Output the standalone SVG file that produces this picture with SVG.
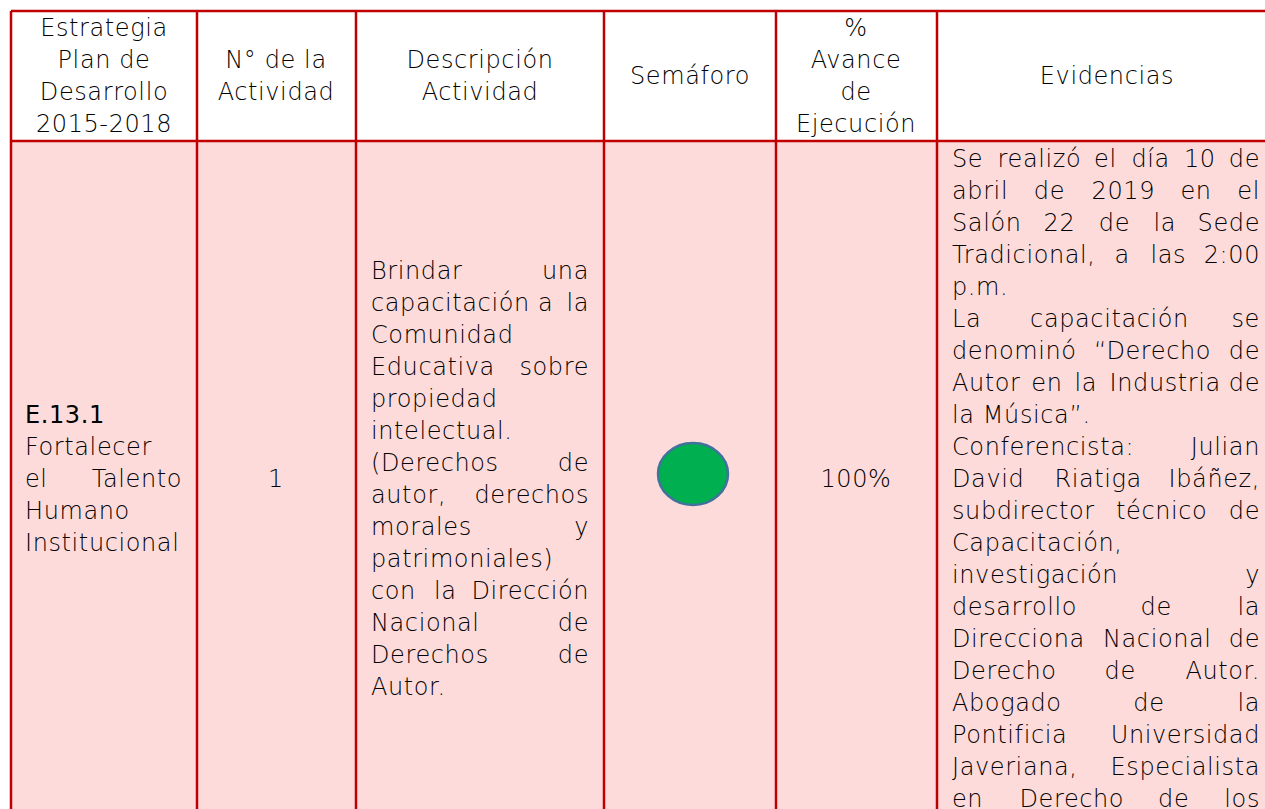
<svg xmlns="http://www.w3.org/2000/svg" width="1265" height="809" viewBox="0 0 1265 809">
<style>
.t{font-family:"DejaVu Sans","Open Sans",sans-serif;font-size:24px;font-weight:200;fill:#000000;letter-spacing:0.6px}
.c{text-anchor:middle}
.e{text-anchor:end}
.b{font-weight:400}
.ln{stroke:#C00000;stroke-width:2.5;fill:none}
</style>
<rect x="0" y="0" width="1265" height="809" fill="#ffffff"/>
<rect x="11" y="141" width="1254" height="668" fill="#FEDBDB"/>
<g id="grid">
<line class="ln" x1="11" y1="11" x2="1265" y2="11"/>
<line class="ln" x1="11" y1="141" x2="1265" y2="141"/>
<line class="ln" x1="11" y1="11" x2="11" y2="809"/>
<line class="ln" x1="197" y1="11" x2="197" y2="809"/>
<line class="ln" x1="356" y1="11" x2="356" y2="809"/>
<line class="ln" x1="604" y1="11" x2="604" y2="809"/>
<line class="ln" x1="776" y1="11" x2="776" y2="809"/>
<line class="ln" x1="937" y1="11" x2="937" y2="809"/>
</g>
<g id="header">
<text class="t c" x="104" y="36">Estrategia</text>
<text class="t c" x="104" y="68">Plan de</text>
<text class="t c" x="104" y="100">Desarrollo</text>
<text class="t c" x="104" y="132">2015-2018</text>
<text class="t c" x="276" y="68">N° de la</text>
<text class="t c" x="276" y="100">Actividad</text>
<text class="t c" x="480" y="68">Descripción</text>
<text class="t c" x="480" y="100">Actividad</text>
<text class="t c" x="690" y="84">Semáforo</text>
<text class="t c" x="856" y="36">%</text>
<text class="t c" x="856" y="68">Avance</text>
<text class="t c" x="856" y="100">de</text>
<text class="t c" x="856" y="132">Ejecución</text>
<text class="t c" x="1107" y="84">Evidencias</text>
</g>
<g id="estrategia">
<text class="t b" x="25" y="423">E.13.1</text>
<text class="t" x="25" y="455">Fortalecer</text>
<text class="t" x="25" y="487">el</text><text class="t e" x="182" y="487">Talento</text>
<text class="t" x="25" y="519">Humano</text>
<text class="t" x="25" y="551">Institucional</text>
</g>
<g id="numero">
<text class="t c" x="276" y="487">1</text>
</g>
<g id="descripcion">
<text class="t" x="371" y="279">Brindar</text><text class="t e" x="589" y="279">una</text>
<text class="t" x="371" y="311">capacitación</text><text class="t" x="538" y="311">a</text><text class="t e" x="589" y="311">la</text>
<text class="t" x="371" y="343">Comunidad</text>
<text class="t" x="371" y="375">Educativa</text><text class="t e" x="589" y="375">sobre</text>
<text class="t" x="371" y="407">propiedad</text>
<text class="t" x="371" y="439">intelectual.</text>
<text class="t" x="371" y="471">(Derechos</text><text class="t e" x="589" y="471">de</text>
<text class="t" x="371" y="503">autor,</text><text class="t e" x="589" y="503">derechos</text>
<text class="t" x="371" y="535">morales</text><text class="t e" x="589" y="535">y</text>
<text class="t" x="371" y="567">patrimoniales)</text>
<text class="t" x="371" y="599">con</text><text class="t" x="434" y="599">la</text><text class="t e" x="589" y="599">Dirección</text>
<text class="t" x="371" y="631">Nacional</text><text class="t e" x="589" y="631">de</text>
<text class="t" x="371" y="663">Derechos</text><text class="t e" x="589" y="663">de</text>
<text class="t" x="371" y="695">Autor.</text>
</g>
<g id="semaforo">
<ellipse cx="693" cy="474" rx="35" ry="31" fill="#00B050" stroke="#41719C" stroke-width="2.5"/>
</g>
<g id="avance">
<text class="t c" x="856" y="487">100%</text>
</g>
<g id="evidencias">
<text class="t" x="952" y="167">Se</text><text class="t" x="997.6" y="167">realizó</text><text class="t" x="1094.1" y="167">el</text><text class="t" x="1131.5" y="167">día</text><text class="t" x="1184" y="167">10</text><text class="t e" x="1260" y="167">de</text>
<text class="t" x="952" y="199">abril</text><text class="t" x="1033.8" y="199">de</text><text class="t" x="1091.6" y="199">2019</text><text class="t" x="1180.4" y="199">en</text><text class="t e" x="1260" y="199">el</text>
<text class="t" x="952" y="231">Salón</text><text class="t" x="1043.6" y="231">22</text><text class="t" x="1098.8" y="231">de</text><text class="t" x="1153.5" y="231">la</text><text class="t e" x="1260" y="231">Sede</text>
<text class="t" x="952" y="263">Tradicional,</text><text class="t" x="1114.6" y="263">a</text><text class="t" x="1150.4" y="263">las</text><text class="t e" x="1260" y="263">2:00</text>
<text class="t" x="952" y="295">p.m.</text>
<text class="t" x="952" y="327">La</text><text class="t" x="1030.1" y="327">capacitación</text><text class="t e" x="1260" y="327">se</text>
<text class="t" x="952" y="359">denominó</text><text class="t" x="1094.1" y="359">“Derecho</text><text class="t e" x="1260" y="359">de</text>
<text class="t" x="952" y="391">Autor</text><text class="t" x="1031.3" y="391">en</text><text class="t" x="1074.6" y="391">la</text><text class="t" x="1109.6" y="391">Industria</text><text class="t e" x="1260" y="391">de</text>
<text class="t" x="952" y="423">la Música”.</text>
<text class="t" x="952" y="455">Conferencista:</text><text class="t e" x="1260" y="455">Julian</text>
<text class="t" x="952" y="487">David</text><text class="t" x="1054.4" y="487">Riatiga</text><text class="t e" x="1260" y="487">Ibáñez,</text>
<text class="t" x="952" y="519">subdirector</text><text class="t" x="1116" y="519">técnico</text><text class="t e" x="1260" y="519">de</text>
<text class="t" x="952" y="551">Capacitación,</text>
<text class="t" x="952" y="583">investigación</text><text class="t e" x="1260" y="583">y</text>
<text class="t" x="952" y="615">desarrollo</text><text class="t" x="1140.6" y="615">de</text><text class="t e" x="1260" y="615">la</text>
<text class="t" x="952" y="647">Direcciona</text><text class="t" x="1103" y="647">Nacional</text><text class="t e" x="1260" y="647">de</text>
<text class="t" x="952" y="679">Derecho</text><text class="t" x="1104.6" y="679">de</text><text class="t e" x="1260" y="679">Autor.</text>
<text class="t" x="952" y="711">Abogado</text><text class="t" x="1133.3" y="711">de</text><text class="t e" x="1260" y="711">la</text>
<text class="t" x="952" y="743">Pontificia</text><text class="t e" x="1260" y="743">Universidad</text>
<text class="t" x="952" y="775">Javeriana,</text><text class="t e" x="1260" y="775">Especialista</text>
<text class="t" x="952" y="807">en</text><text class="t" x="1019.5" y="807">Derecho</text><text class="t" x="1158.1" y="807">de</text><text class="t e" x="1260" y="807">los</text>
</g>
</svg>
